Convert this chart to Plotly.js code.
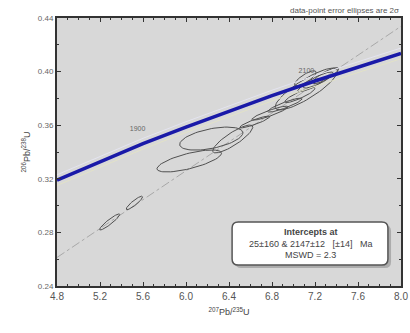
<!DOCTYPE html>
<html>
<head>
<meta charset="utf-8">
<script src="https://cdn.plot.ly/plotly-3.0.1.min.js"></script>
<style>html,body{margin:0;padding:0;background:#fff}#chart{width:410px;height:333px}</style>
</head>
<body>
<div id="chart"></div>
<script>
// Concordia curve
var concX = [4.8, 5.2, 5.6, 6.0, 6.4, 6.8, 7.2, 7.6, 8.0];
var concY = [0.3190, 0.3329, 0.3462, 0.3586, 0.3706, 0.3821, 0.3930, 0.4035, 0.4136];
// Discordia (grey dashed) end points
var discX = [4.8, 8.0];
var discY = [0.2613, 0.4338];
// Ellipse data: centres, 1-sigma errors, error correlation
var ellX   = [5.29, 5.52, 6.03, 6.235, 6.435, 6.64, 6.78, 6.92, 7.06, 7.12, 7.16, 7.23, 7.11, 7.30];
var ellY   = [0.2878, 0.302, 0.3333, 0.350, 0.3497, 0.3624, 0.369, 0.375, 0.3825, 0.387, 0.390, 0.3937, 0.395, 0.397];
var ellSX  = [0.047, 0.038, 0.15, 0.147, 0.093, 0.07, 0.084, 0.08, 0.07, 0.145, 0.06, 0.07, 0.05, 0.06];
var ellSY  = [0.003, 0.0025, 0.0041, 0.0043, 0.0052, 0.0022, 0.0026, 0.0026, 0.0028, 0.0078, 0.0025, 0.003, 0.0028, 0.003];
var ellRho = [0.93, 0.9, 0.7, 0.5, 0.85, 0.9, 0.9, 0.9, 0.88, 0.85, 0.85, 0.85, 0.8, 0.85];
// Concordia age labels
var ageLabels = ["1900", "2100"];
var ageX = [5.55, 7.12];
var ageY = [0.357, 0.4005];
var xTicks = [4.8, 5.2, 5.6, 6.0, 6.4, 6.8, 7.2, 7.6, 8.0];
var yTicks = [0.24, 0.28, 0.32, 0.36, 0.40, 0.44];

var traces = [];
traces.push({x: discX, y: discY, mode: 'lines', line: {color: '#a8a8a8', width: 1, dash: 'dashdot'}, hoverinfo: 'skip', showlegend: false});
for (var i = 0; i < ellX.length; i++) {
  var xs = [], ys = [];
  for (var k = 0; k <= 72; k++) {
    var t = 2 * Math.PI * k / 72;
    xs.push(ellX[i] + 2 * ellSX[i] * Math.cos(t));
    ys.push(ellY[i] + 2 * ellSY[i] * (ellRho[i] * Math.cos(t) + Math.sqrt(1 - ellRho[i] * ellRho[i]) * Math.sin(t)));
  }
  traces.push({x: xs, y: ys, mode: 'lines', line: {color: '#505050', width: 1}, hoverinfo: 'skip', showlegend: false});
}
// faint envelope lines around concordia
traces.push({x: concX, y: concY.map(function(v){return v + 0.004;}), mode: 'lines', line: {color: '#e4e4f0', width: 1}, hoverinfo: 'skip', showlegend: false});
traces.push({x: concX, y: concY.map(function(v){return v - 0.004;}), mode: 'lines', line: {color: '#e2e2c8', width: 1}, hoverinfo: 'skip', showlegend: false});
traces.push({x: concX, y: concY, mode: 'lines', line: {color: '#1a1aa8', width: 3.5}, hoverinfo: 'skip', showlegend: false});
traces.push({x: ageX, y: ageY, mode: 'text', text: ageLabels, textfont: {family: 'Liberation Sans, Arial', size: 7, color: '#666'}, hoverinfo: 'skip', showlegend: false});

function roundRect(x0, y0, x1, y1, rx, ry) {
  return 'M' + (x0 + rx) + ',' + y0 + ' L' + (x1 - rx) + ',' + y0 + ' Q' + x1 + ',' + y0 + ' ' + x1 + ',' + (y0 + ry) +
    ' L' + x1 + ',' + (y1 - ry) + ' Q' + x1 + ',' + y1 + ' ' + (x1 - rx) + ',' + y1 +
    ' L' + (x0 + rx) + ',' + y1 + ' Q' + x0 + ',' + y1 + ' ' + x0 + ',' + (y1 - ry) +
    ' L' + x0 + ',' + (y0 + ry) + ' Q' + x0 + ',' + y0 + ' ' + (x0 + rx) + ',' + y0 + ' Z';
}

var fnt = {family: 'Liberation Sans, Arial, sans-serif', size: 9, color: '#555'};
var layout = {
  width: 410, height: 333,
  margin: {l: 57, r: 9, t: 18, b: 47},
  paper_bgcolor: '#ffffff',
  plot_bgcolor: '#d8d8d8',
  font: fnt,
  xaxis: {
    range: [4.8, 8.0], tickvals: xTicks, ticktext: xTicks.map(function(v){return v.toFixed(1);}),
    ticks: 'inside', ticklen: 4, tickcolor: '#333', showgrid: false, zeroline: false,
    showline: true, linecolor: '#333', linewidth: 2, mirror: 'ticks',
    minor: {dtick: 0.1, ticks: 'inside', ticklen: 2, tickcolor: '#333'},
    tickfont: {family: fnt.family, size: 10, color: '#555'},
    title: {text: '<sup>207</sup>Pb/<sup>235</sup>U', font: {family: fnt.family, size: 9, color: '#444'}, standoff: 8}
  },
  yaxis: {
    range: [0.24, 0.44], tickvals: yTicks, ticktext: yTicks.map(function(v){return v.toFixed(2);}),
    ticks: 'inside', ticklen: 4, tickcolor: '#333', showgrid: false, zeroline: false,
    showline: true, linecolor: '#333', linewidth: 2, mirror: 'ticks',
    minor: {dtick: 0.02, ticks: 'inside', ticklen: 2, tickcolor: '#333'},
    tickfont: {family: fnt.family, size: 8, color: '#666'},
    title: {text: '<sup>206</sup>Pb/<sup>238</sup>U', font: {family: fnt.family, size: 9, color: '#444'}, standoff: 6}
  },
  shapes: [
    {type: 'path', xref: 'paper', yref: 'paper', path: roundRect(0.518, 0.067, 0.971, 0.228, 0.018, 0.023), fillcolor: '#9a9a9a', line: {width: 0}, opacity: 0.7, layer: 'above'},
    {type: 'path', xref: 'paper', yref: 'paper', path: roundRect(0.509, 0.078, 0.962, 0.239, 0.018, 0.023), fillcolor: '#ffffff', line: {color: '#555', width: 1.5}, layer: 'above'}
  ],
  annotations: [
    {xref: 'paper', yref: 'paper', x: 1.0, y: 1.0, xanchor: 'right', yanchor: 'bottom', yshift: 1,
     text: 'data-point error ellipses are 2σ', showarrow: false, font: {family: fnt.family, size: 8, color: '#555'}},
    {xref: 'paper', yref: 'paper', x: 0.7355, y: 0.1585, xanchor: 'center', yanchor: 'middle',
     text: '<b>Intercepts at</b><br>25±160 & 2147±12   [±14]   Ma<br>MSWD = 2.3', showarrow: false,
     align: 'center', font: {family: fnt.family, size: 9, color: '#444'}}
  ]
};
Plotly.newPlot('chart', traces, layout, {displayModeBar: false, staticPlot: true});
</script>
</body>
</html>
